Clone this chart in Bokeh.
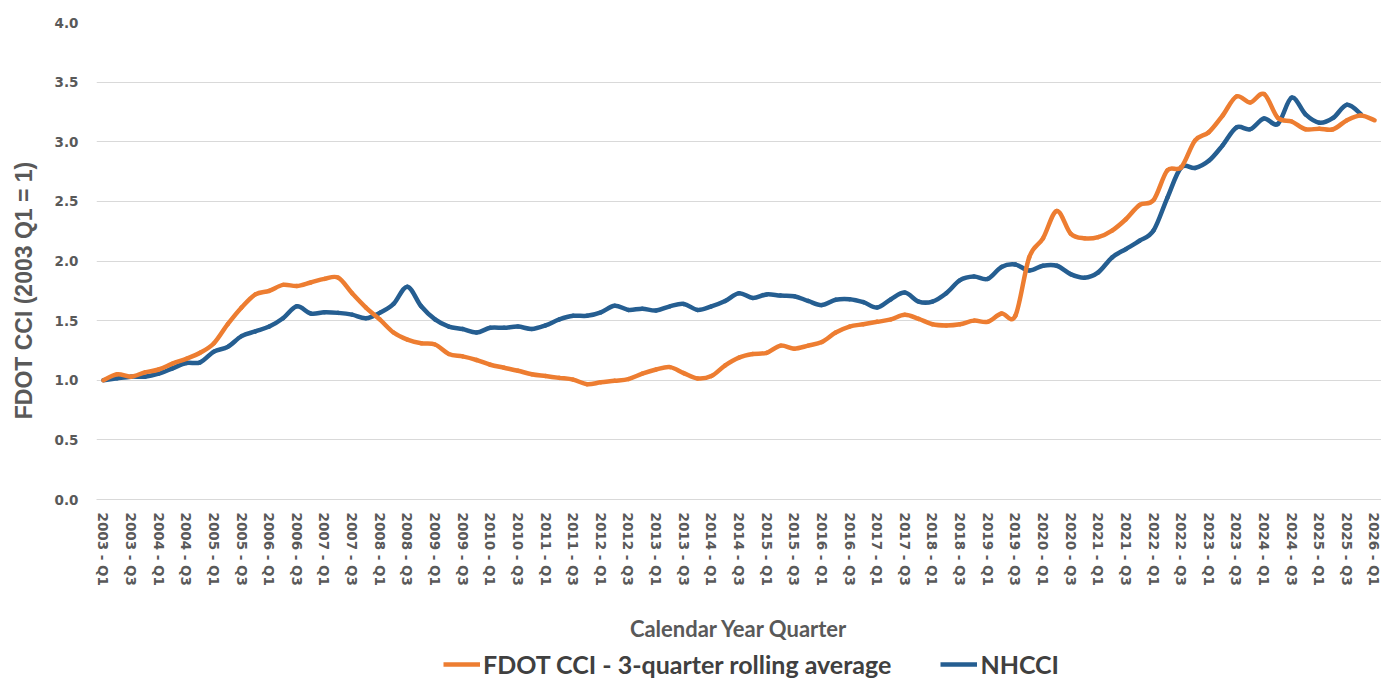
import numpy as np
from bokeh.plotting import figure
from bokeh.layouts import column, row
from bokeh.models import (Range1d, FixedTicker, Label, Legend, LegendItem,
                          ColumnDataSource, NumeralTickFormatter)
from bokeh.embed import file_html
from bokeh.resources import INLINE

# ---------------- data ----------------
quarters = [f"{2003 + i // 4} - Q{i % 4 + 1}" for i in range(93)]

fdot_cci = [1.00, 1.05, 1.03, 1.066, 1.09, 1.14, 1.18, 1.23, 1.31, 1.47,
            1.61, 1.72, 1.75, 1.80, 1.79, 1.82, 1.85, 1.86, 1.73, 1.61,
            1.51, 1.40, 1.34, 1.31, 1.30, 1.22, 1.20, 1.17, 1.13, 1.105,
            1.08, 1.05, 1.035, 1.02, 1.005, 0.967, 0.983, 0.995, 1.01, 1.055,
            1.09, 1.11, 1.06, 1.015, 1.035, 1.125, 1.19, 1.22, 1.23, 1.29,
            1.265, 1.29, 1.32, 1.40, 1.45, 1.47, 1.49, 1.51, 1.55, 1.515,
            1.47, 1.46, 1.47, 1.50, 1.49, 1.56, 1.54, 2.03, 2.19, 2.42,
            2.23, 2.19, 2.20, 2.255, 2.35, 2.47, 2.51, 2.76, 2.785, 3.01,
            3.08, 3.22, 3.38, 3.33, 3.40, 3.20, 3.17, 3.105, 3.11, 3.105,
            3.18, 3.22, 3.18]

nhcci = [1.00, 1.016, 1.03, 1.03, 1.055, 1.10, 1.145, 1.15, 1.24, 1.28,
         1.37, 1.41, 1.45, 1.52, 1.62, 1.56, 1.57, 1.565, 1.55, 1.52,
         1.565, 1.64, 1.785, 1.62, 1.51, 1.45, 1.43, 1.40, 1.44, 1.44,
         1.45, 1.43, 1.46, 1.51, 1.54, 1.54, 1.57, 1.625, 1.59, 1.60,
         1.585, 1.62, 1.64, 1.59, 1.62, 1.665, 1.73, 1.69, 1.72, 1.71,
         1.705, 1.665, 1.63, 1.675, 1.68, 1.655, 1.61, 1.68, 1.735, 1.66,
         1.66, 1.73, 1.84, 1.87, 1.85, 1.95, 1.97, 1.92, 1.96, 1.96,
         1.89, 1.86, 1.905, 2.03, 2.10, 2.17, 2.255, 2.53, 2.785, 2.78,
         2.84, 2.97, 3.12, 3.105, 3.195, 3.15, 3.37, 3.23, 3.16, 3.20,
         3.31, 3.234]

series_names = ["FDOT CCI - 3-quarter rolling average", "NHCCI"]
y_ticks = [0.0, 0.5, 1.0, 1.5, 2.0, 2.5, 3.0, 3.5, 4.0]
y_title = "FDOT CCI (2003 Q1 = 1)"
x_title = "Calendar Year Quarter"

ORANGE = "#ED7D31"
BLUE = "#255E91"
TXT = "#595959"

TOTAL_W = 1381
TITLE_W = 45
MAIN_H = 649
LEG_H = 31
FRAME_TOP = 22
FRAME_BOTTOM = 499


def smooth_segments(y):
    """Excel-style smoothed line: cubic Bezier segments between data points."""
    n = len(y)
    d = dict(x0=[], y0=[], x1=[], y1=[], cx0=[], cy0=[], cx1=[], cy1=[])
    for i in range(n - 1):
        im1 = i - 1 if i > 0 else i
        ip2 = i + 2 if i + 2 < n else i + 1
        d["x0"].append(i)
        d["y0"].append(y[i])
        d["x1"].append(i + 1)
        d["y1"].append(y[i + 1])
        d["cx0"].append(i + (i + 1 - im1) / 6.0)
        d["cy0"].append(y[i] + (y[i + 1] - y[im1]) / 6.0)
        d["cx1"].append(i + 1 - (ip2 - i) / 6.0)
        d["cy1"].append(y[i + 1] - (y[ip2] - y[i]) / 6.0)
    return ColumnDataSource(d)


def blank_fig(w, h, xr, yr, top=0, bottom=0):
    f = figure(width=w, height=h, output_backend="svg", toolbar_location=None,
               x_range=xr, y_range=yr, x_axis_type=None, y_axis_type=None,
               min_border=0)
    f.min_border_left = f.min_border_right = 0
    f.min_border_top = top
    f.min_border_bottom = bottom
    f.outline_line_color = None
    f.xgrid.visible = False
    f.ygrid.visible = False
    f.background_fill_color = "white"
    f.border_fill_color = "white"
    return f


# ---------------- main chart ----------------
p = figure(width=TOTAL_W - TITLE_W, height=MAIN_H, output_backend="svg",
           toolbar_location=None,
           x_range=Range1d(-0.5, len(quarters) - 0.5), y_range=Range1d(0, 4),
           min_border_left=96 - TITLE_W, min_border_right=0,
           min_border_top=FRAME_TOP, min_border_bottom=MAIN_H - FRAME_BOTTOM)
p.outline_line_color = None
p.background_fill_color = "white"
p.border_fill_color = "white"

p.xgrid.visible = False
p.ygrid.ticker = FixedTicker(ticks=y_ticks)
p.ygrid.grid_line_color = "#D9D9D9"
p.ygrid.grid_line_width = 1

p.yaxis.ticker = FixedTicker(ticks=y_ticks)
p.yaxis.formatter = NumeralTickFormatter(format="0.0")
p.yaxis.axis_line_color = None
p.yaxis.major_tick_line_color = None
p.yaxis.minor_tick_line_color = None
p.yaxis.major_label_standoff = 12
p.yaxis.major_label_text_font = "DejaVu Sans"
p.yaxis.major_label_text_font_style = "bold"
p.yaxis.major_label_text_font_size = "13.5px"
p.yaxis.major_label_text_color = TXT

p.xaxis.ticker = FixedTicker(ticks=list(range(0, len(quarters), 2)))
p.xaxis.major_label_overrides = {i: quarters[i] for i in range(0, len(quarters), 2)}
p.xaxis.major_label_orientation = "vertical"
p.xaxis.axis_line_color = "#D9D9D9"
p.xaxis.major_tick_line_color = None
p.xaxis.minor_tick_line_color = None
p.xaxis.major_label_standoff = 7
p.xaxis.major_label_text_font = "DejaVu Sans"
p.xaxis.major_label_text_font_style = "bold"
p.xaxis.major_label_text_font_size = "13.5px"
p.xaxis.major_label_text_color = TXT
p.xaxis.axis_label = x_title
p.xaxis.axis_label_text_font = "Lato"
p.xaxis.axis_label_text_font_style = "bold"
p.xaxis.axis_label_text_font_size = "22px"
p.xaxis.axis_label_text_color = TXT
p.xaxis.axis_label_standoff = 26

p.bezier(x0="x0", y0="y0", x1="x1", y1="y1", cx0="cx0", cy0="cy0",
         cx1="cx1", cy1="cy1", source=smooth_segments(nhcci),
         line_color=BLUE, line_width=4.5, line_cap="round")
p.bezier(x0="x0", y0="y0", x1="x1", y1="y1", cx0="cx0", cy0="cy0",
         cx1="cx1", cy1="cy1", source=smooth_segments(fdot_cci),
         line_color=ORANGE, line_width=4.5, line_cap="round")

# ---------------- y-axis title strip (pixel-like ranges, frame = main frame) ----------------
t = blank_fig(TITLE_W, MAIN_H, Range1d(0, TITLE_W), Range1d(FRAME_BOTTOM, FRAME_TOP),
              top=FRAME_TOP, bottom=MAIN_H - FRAME_BOTTOM)
t.add_layout(Label(x=23, y=290, text=y_title, angle=np.pi / 2,
                   text_align="center", text_baseline="middle",
                   text_font="Arial", text_font_style="bold",
                   text_font_size="23px", text_color=TXT))

# ---------------- legend strip ----------------
lg = blank_fig(TOTAL_W, LEG_H, Range1d(0, TOTAL_W), Range1d(0, LEG_H))
# legend swatches (proxy renderers that draw nothing in the strip)
lo = lg.line(x=[np.nan], y=[np.nan], line_color=ORANGE, line_width=4.5)
lb = lg.line(x=[np.nan], y=[np.nan], line_color=BLUE, line_width=4.5)
legend = Legend(items=[LegendItem(label=series_names[0], renderers=[lo]),
                       LegendItem(label=series_names[1], renderers=[lb])],
                orientation="horizontal", location=(443, 1),
                glyph_width=37, glyph_height=24, label_standoff=3, spacing=49,
                padding=0, margin=0, border_line_color=None,
                background_fill_alpha=0,
                label_text_font="Lato", label_text_font_style="bold",
                label_text_font_size="25px", label_text_color="#404040")
lg.add_layout(legend, "center")

layout = column(row(t, p, spacing=0), lg, spacing=0)
open("out.html", "w").write(file_html(layout, INLINE))
